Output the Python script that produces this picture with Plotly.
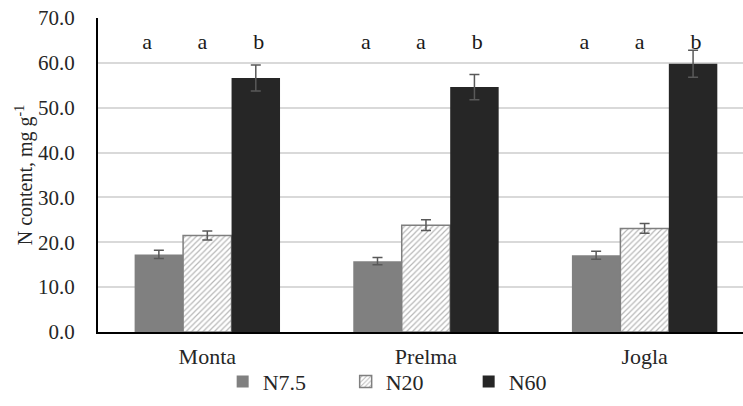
import plotly.graph_objects as go

categories = ["Monta", "Prelma", "Jogla"]
series_names = ["N7.5", "N20", "N60"]
n75 = [17.3, 15.8, 17.1]
n75_err = [0.9, 0.8, 0.9]
n20 = [21.5, 23.8, 23.1]
n20_err = [1.0, 1.2, 1.1]
n60 = [56.6, 54.6, 59.8]
n60_err = [2.9, 2.8, 3.0]
letters_n75 = ["a", "a", "a"]
letters_n20 = ["a", "a", "a"]
letters_n60 = ["b", "b", "b"]
letter_y = 64.4
y_ticks = [0, 10, 20, 30, 40, 50, 60, 70]

FONT = "Liberation Serif"
TXT = "#262626"
err_style = dict(type="data", color="#595959", thickness=1.5, width=5)

fig = go.Figure()
fig.add_trace(go.Bar(
    name=series_names[0], x=categories, y=n75,
    error_y=dict(array=n75_err, **err_style),
    marker=dict(color="#808080", line=dict(width=0)),
))
fig.add_trace(go.Bar(
    name=series_names[1], x=categories, y=n20,
    error_y=dict(array=n20_err, **err_style),
    marker=dict(color="white", line=dict(color="#7f7f7f", width=1.5),
                pattern=dict(shape="/", fgcolor="#707070", bgcolor="white",
                             size=4, solidity=0.3)),
))
fig.add_trace(go.Bar(
    name=series_names[2], x=categories, y=n60,
    error_y=dict(array=n60_err, **err_style),
    marker=dict(color="#262626", line=dict(width=0)),
))

# letter text-box offsets (category units) relative to group centre
letter_offsets = [-0.275, -0.023, 0.235]
for letters, off in zip([letters_n75, letters_n20, letters_n60], letter_offsets):
    fig.add_trace(go.Scatter(
        x=[i + off for i in range(len(categories))], y=[letter_y] * len(letters),
        mode="text", text=letters,
        textfont=dict(family=FONT, size=22, color="#1a1a1a"),
        showlegend=False, hoverinfo="skip", xaxis="x2",
    ))

fig.update_layout(
    width=743, height=406,
    margin=dict(l=98, r=0, t=18, b=74, autoexpand=False),
    paper_bgcolor="white", plot_bgcolor="white",
    barmode="group", bargap=0.335, bargroupgap=0,
    font=dict(family=FONT, size=21, color=TXT),
    showlegend=True,
    legend=dict(orientation="h", xref="container", x=0.548, xanchor="center",
                yref="container", y=0.008, yanchor="bottom",
                bgcolor="rgba(0,0,0,0)",
                font=dict(family=FONT, size=22, color=TXT),
                itemwidth=30, entrywidth=78, tracegroupgap=0,
                traceorder="normal"),
    xaxis=dict(range=[-0.5, 2.45], showgrid=False, showline=True,
               linecolor="black", linewidth=2, ticks="",
               tickfont=dict(family=FONT, size=22, color=TXT),
               ticklabelstandoff=4),
    xaxis2=dict(range=[-0.5, 2.45], overlaying="x", visible=False),
    yaxis=dict(range=[0, 70], tickvals=y_ticks,
               ticktext=[f"{v:.1f}" for v in y_ticks],
               showgrid=True, gridcolor="#d9d9d9", gridwidth=1.5,
               showline=True, linecolor="black", linewidth=2,
               ticks="", zeroline=False,
               tickfont=dict(family=FONT, size=21, color=TXT),
               ticklabelstandoff=17,
               title=dict(text="N content, mg g<sup>-1</sup>",
                          font=dict(family=FONT, size=20, color=TXT),
                          standoff=0)),
)

fig.write_html("out.html", config={"displayModeBar": False},
               post_script="document.body.style.margin='0';")
